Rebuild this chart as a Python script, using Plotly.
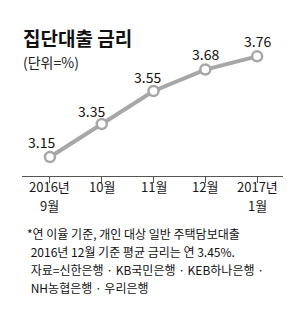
import plotly.graph_objects as go

months = ["2016년<br>9월", "10월", "11월", "12월", "2017년<br>1월"]
rates = [3.15, 3.35, 3.55, 3.68, 3.76]
rate_labels = ["3.15", "3.35", "3.55", "3.68", "3.76"]

FONT = "Noto Sans CJK KR"
LINE = "#a7a7a7"

x_idx = list(range(len(months)))

fig = go.Figure()
fig.add_trace(go.Scatter(
    x=x_idx, y=rates, mode="lines+markers",
    line=dict(color=LINE, width=4),
    marker=dict(size=10, color="white", line=dict(color=LINE, width=2.5)),
    hoverinfo="skip", showlegend=False,
))

label_dx = [-8, -10, -6, 0, 0]
label_dy = [15, 13, 14, 16, 15]
for i, (v, t) in enumerate(zip(rates, rate_labels)):
    fig.add_annotation(x=x_idx[i], y=v, text=t, showarrow=False,
                       xshift=label_dx[i], yshift=label_dy[i],
                       font=dict(family=FONT, size=14, color="#111"))

notes = [
    "*연 이율 기준, 개인 대상 일반 주택담보대출",
    " 2016년 12월 기준 평균 금리는 연 3.45%.",
    " 자료=신한은행 · KB국민은행 · KEB하나은행 ·",
    " NH농협은행 · 우리은행",
]

T, B = 40, 135
H_PLOT = 311 - T - B
def py(pix):
    return (311 - B - pix) / H_PLOT

fig.update_layout(
    width=300, height=311,
    margin=dict(l=22, r=17, t=T, b=B),
    paper_bgcolor="white", plot_bgcolor="white",
    xaxis=dict(range=[-0.54, 4.5], tickmode="array", tickvals=x_idx, ticktext=[""] * len(x_idx),
               showline=True, linecolor="#555", linewidth=1.2,
               ticks="outside", ticklen=6, tickcolor="#555", tickwidth=1,
               showgrid=False, zeroline=False, fixedrange=True),
    yaxis=dict(range=[3.035, 3.859], visible=False, fixedrange=True),
    font=dict(family=FONT),
)

# tick labels (two-line where needed), each line as its own text
for i, m in enumerate(months):
    for j, part in enumerate(m.split("<br>")):
        fig.add_annotation(x=x_idx[i], xref="x", yref="paper", y=py(186.5 + 19 * j),
                           yanchor="middle", text=part, showarrow=False, borderpad=0,
                           font=dict(family=FONT, size=13, color="#1a1a1a"))

fig.add_annotation(xref="paper", yref="paper", x=0, y=py(37), xanchor="left", yanchor="middle",
                   text="<b>집단대출 금리</b>", showarrow=False, xshift=-1,
                   font=dict(family=FONT, size=19, color="#111"))
fig.add_annotation(xref="paper", yref="paper", x=0, y=py(62), xanchor="left", yanchor="middle",
                   text="(단위=%)", showarrow=False, xshift=-1,
                   font=dict(family=FONT, size=14, color="#222"))

note_y = [233, 251, 269, 287]
note_x = [25, 26, 26, 26]
for t, yy, xx in zip(notes, note_y, note_x):
    fig.add_annotation(xref="paper", yref="paper", x=(xx - 22) / (300 - 22 - 17), y=py(yy),
                       xanchor="left", yanchor="middle", text=t, showarrow=False,
                       font=dict(family=FONT, size=12, color="#111"))

fig.write_html("out.html")
